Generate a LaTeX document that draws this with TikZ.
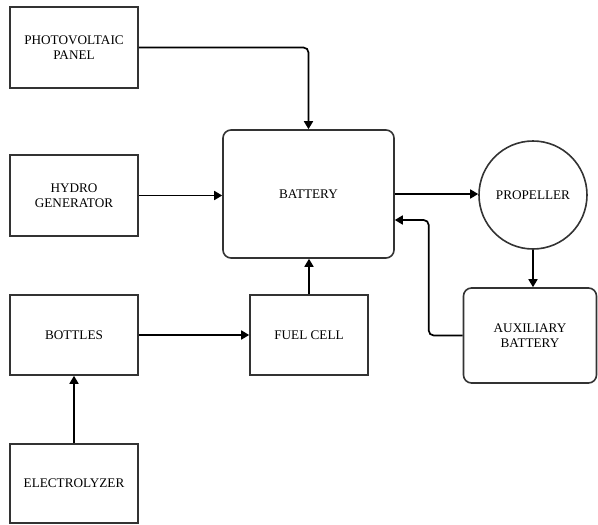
\documentclass[tikz,border=0pt]{standalone}
\usepackage{fontspec}
\setmainfont{Liberation Serif}
\usetikzlibrary{arrows.meta,calc}
\begin{document}
\begin{tikzpicture}[x=1pt,y=-1pt,
  box/.style={draw=black!80,line width=1.6pt,align=center,inner sep=0pt,font=\fontsize{13.2}{15}\selectfont},
  rbox/.style={box,rounded corners=8pt},
  conn/.style={draw=black,line width=1.7pt,rounded corners=5pt,-{Triangle[length=8pt,width=9pt]}}]
\useasboundingbox (0,0) rectangle (598,525);
\node[box,minimum width=128pt,minimum height=81pt] (pv) at (74,47.5) {PHOTOVOLTAIC\\PANEL};
\node[box,minimum width=128pt,minimum height=81pt] (hydro) at (74,195.5) {HYDRO\\GENERATOR};
\node[box,minimum width=128pt,minimum height=80pt] (bottles) at (74,335) {BOTTLES};
\node[box,minimum width=128pt,minimum height=79pt] (elec) at (74,483.5) {ELECTROLYZER};
\node[box,minimum width=118pt,minimum height=80pt] (fuel) at (309,335) {FUEL CELL};
\node[rbox,minimum width=171pt,minimum height=128pt] (bat) at (308.5,194) {BATTERY};
\node[box,circle,minimum size=108pt] (prop) at (533,195) {PROPELLER};
\node[rbox,minimum width=133pt,minimum height=95pt] (aux) at (530,335.5) {AUXILIARY\\BATTERY};
\coordinate (fb) at ($(bat.east)+(0,26)$);
\draw[conn] (pv.east) -| (bat.north);
\draw[conn] (hydro.east) -- (hydro.east -| bat.west);
\draw[conn] (bat.east) -- (bat.east -| prop.west);
\draw[conn] (prop.south) -- (prop.south |- aux.north);
\draw[conn] (aux.west) -- ++(-34,0) |- (fb);
\draw[conn] (bottles.east) -- (bottles.east -| fuel.west);
\draw[conn] (fuel.north) -- (fuel.north |- bat.south);
\draw[conn] (elec.north) -- (bottles.south);
\end{tikzpicture}
\end{document}
